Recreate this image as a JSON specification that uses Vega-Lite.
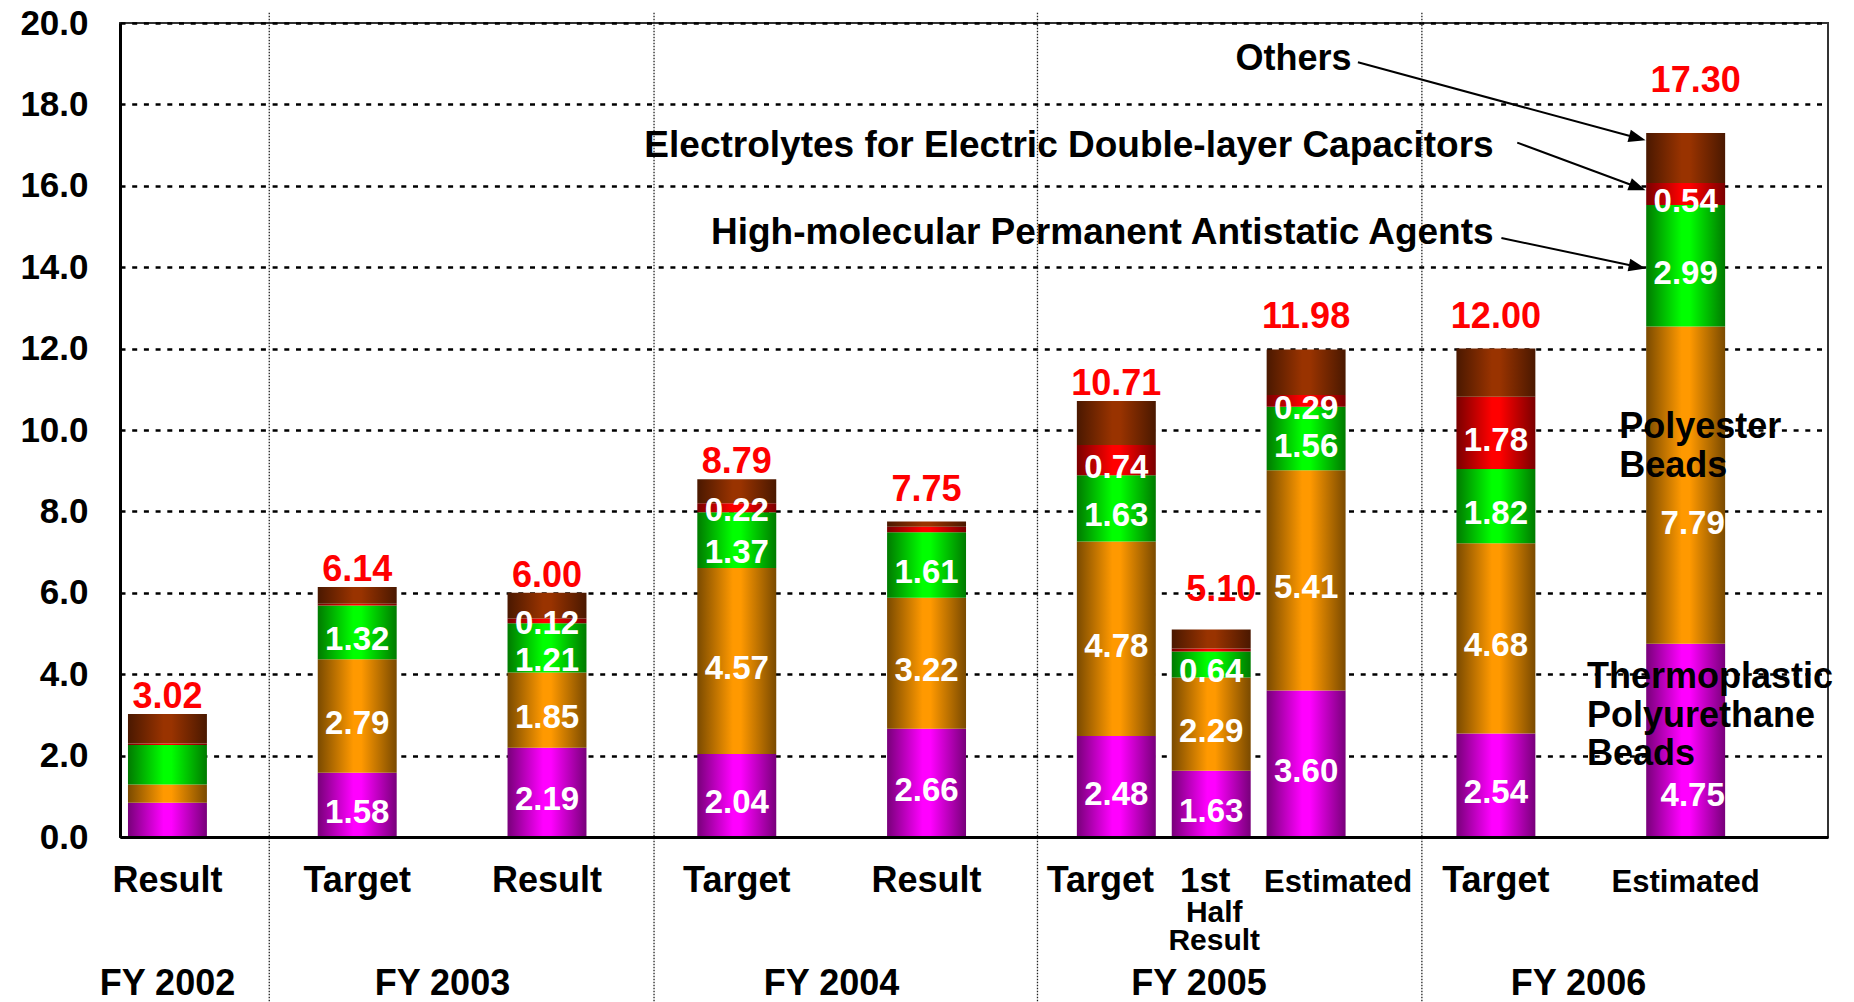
{
  "$schema": "https://vega.github.io/schema/vega-lite/v6.json",
  "width": 1708,
  "height": 814,
  "autosize": {"type": "none"},
  "padding": {"left": 120, "top": 23, "right": 26, "bottom": 165},
  "background": "white",
  "config": {
    "font": "Liberation Sans, Arial, sans-serif",
    "view": {"stroke": "#333333", "strokeWidth": 2},
    "text": {"fontWeight": "bold", "font": "Liberation Sans, Arial, sans-serif"}
  },
  "datasets": {
    "segments": [
      {"cat": "FY2002 Result", "series": "Thermoplastic Polyurethane Beads", "rank": 1, "value": 0.84, "label": ""},
      {"cat": "FY2002 Result", "series": "Polyester Beads", "rank": 2, "value": 0.45, "label": ""},
      {"cat": "FY2002 Result", "series": "High-molecular Permanent Antistatic Agents", "rank": 3, "value": 0.97, "label": ""},
      {"cat": "FY2002 Result", "series": "Electrolytes for Electric Double-layer Capacitors", "rank": 4, "value": 0.04, "label": ""},
      {"cat": "FY2002 Result", "series": "Others", "rank": 5, "value": 0.72, "label": ""},
      {"cat": "FY2003 Target", "series": "Thermoplastic Polyurethane Beads", "rank": 1, "value": 1.58, "label": "1.58"},
      {"cat": "FY2003 Target", "series": "Polyester Beads", "rank": 2, "value": 2.79, "label": "2.79"},
      {"cat": "FY2003 Target", "series": "High-molecular Permanent Antistatic Agents", "rank": 3, "value": 1.32, "label": "1.32"},
      {"cat": "FY2003 Target", "series": "Electrolytes for Electric Double-layer Capacitors", "rank": 4, "value": 0.04, "label": ""},
      {"cat": "FY2003 Target", "series": "Others", "rank": 5, "value": 0.41, "label": ""},
      {"cat": "FY2003 Result", "series": "Thermoplastic Polyurethane Beads", "rank": 1, "value": 2.19, "label": "2.19"},
      {"cat": "FY2003 Result", "series": "Polyester Beads", "rank": 2, "value": 1.85, "label": "1.85"},
      {"cat": "FY2003 Result", "series": "High-molecular Permanent Antistatic Agents", "rank": 3, "value": 1.21, "label": "1.21"},
      {"cat": "FY2003 Result", "series": "Electrolytes for Electric Double-layer Capacitors", "rank": 4, "value": 0.12, "label": "0.12"},
      {"cat": "FY2003 Result", "series": "Others", "rank": 5, "value": 0.63, "label": ""},
      {"cat": "FY2004 Target", "series": "Thermoplastic Polyurethane Beads", "rank": 1, "value": 2.04, "label": "2.04"},
      {"cat": "FY2004 Target", "series": "Polyester Beads", "rank": 2, "value": 4.57, "label": "4.57"},
      {"cat": "FY2004 Target", "series": "High-molecular Permanent Antistatic Agents", "rank": 3, "value": 1.37, "label": "1.37"},
      {"cat": "FY2004 Target", "series": "Electrolytes for Electric Double-layer Capacitors", "rank": 4, "value": 0.22, "label": "0.22"},
      {"cat": "FY2004 Target", "series": "Others", "rank": 5, "value": 0.59, "label": ""},
      {"cat": "FY2004 Result", "series": "Thermoplastic Polyurethane Beads", "rank": 1, "value": 2.66, "label": "2.66"},
      {"cat": "FY2004 Result", "series": "Polyester Beads", "rank": 2, "value": 3.22, "label": "3.22"},
      {"cat": "FY2004 Result", "series": "High-molecular Permanent Antistatic Agents", "rank": 3, "value": 1.61, "label": "1.61"},
      {"cat": "FY2004 Result", "series": "Electrolytes for Electric Double-layer Capacitors", "rank": 4, "value": 0.13, "label": ""},
      {"cat": "FY2004 Result", "series": "Others", "rank": 5, "value": 0.13, "label": ""},
      {"cat": "FY2005 Target", "series": "Thermoplastic Polyurethane Beads", "rank": 1, "value": 2.48, "label": "2.48"},
      {"cat": "FY2005 Target", "series": "Polyester Beads", "rank": 2, "value": 4.78, "label": "4.78"},
      {"cat": "FY2005 Target", "series": "High-molecular Permanent Antistatic Agents", "rank": 3, "value": 1.63, "label": "1.63"},
      {"cat": "FY2005 Target", "series": "Electrolytes for Electric Double-layer Capacitors", "rank": 4, "value": 0.74, "label": "0.74"},
      {"cat": "FY2005 Target", "series": "Others", "rank": 5, "value": 1.08, "label": ""},
      {"cat": "FY2005 1st Half Result", "series": "Thermoplastic Polyurethane Beads", "rank": 1, "value": 1.63, "label": "1.63"},
      {"cat": "FY2005 1st Half Result", "series": "Polyester Beads", "rank": 2, "value": 2.29, "label": "2.29"},
      {"cat": "FY2005 1st Half Result", "series": "High-molecular Permanent Antistatic Agents", "rank": 3, "value": 0.64, "label": "0.64"},
      {"cat": "FY2005 1st Half Result", "series": "Electrolytes for Electric Double-layer Capacitors", "rank": 4, "value": 0.07, "label": ""},
      {"cat": "FY2005 1st Half Result", "series": "Others", "rank": 5, "value": 0.47, "label": ""},
      {"cat": "FY2005 Estimated", "series": "Thermoplastic Polyurethane Beads", "rank": 1, "value": 3.60, "label": "3.60"},
      {"cat": "FY2005 Estimated", "series": "Polyester Beads", "rank": 2, "value": 5.41, "label": "5.41"},
      {"cat": "FY2005 Estimated", "series": "High-molecular Permanent Antistatic Agents", "rank": 3, "value": 1.56, "label": "1.56"},
      {"cat": "FY2005 Estimated", "series": "Electrolytes for Electric Double-layer Capacitors", "rank": 4, "value": 0.29, "label": "0.29"},
      {"cat": "FY2005 Estimated", "series": "Others", "rank": 5, "value": 1.12, "label": ""},
      {"cat": "FY2006 Target", "series": "Thermoplastic Polyurethane Beads", "rank": 1, "value": 2.54, "label": "2.54"},
      {"cat": "FY2006 Target", "series": "Polyester Beads", "rank": 2, "value": 4.68, "label": "4.68"},
      {"cat": "FY2006 Target", "series": "High-molecular Permanent Antistatic Agents", "rank": 3, "value": 1.82, "label": "1.82"},
      {"cat": "FY2006 Target", "series": "Electrolytes for Electric Double-layer Capacitors", "rank": 4, "value": 1.78, "label": "1.78"},
      {"cat": "FY2006 Target", "series": "Others", "rank": 5, "value": 1.18, "label": ""},
      {"cat": "FY2006 Estimated", "series": "Thermoplastic Polyurethane Beads", "rank": 1, "value": 4.75, "label": "4.75"},
      {"cat": "FY2006 Estimated", "series": "Polyester Beads", "rank": 2, "value": 7.79, "label": "7.79"},
      {"cat": "FY2006 Estimated", "series": "High-molecular Permanent Antistatic Agents", "rank": 3, "value": 2.99, "label": "2.99"},
      {"cat": "FY2006 Estimated", "series": "Electrolytes for Electric Double-layer Capacitors", "rank": 4, "value": 0.54, "label": "0.54"},
      {"cat": "FY2006 Estimated", "series": "Others", "rank": 5, "value": 1.23, "label": ""}
    ],
    "bars": [
      {"cat": "FY2002 Result", "label": "Result", "total": 3.02},
      {"cat": "FY2003 Target", "label": "Target", "total": 6.14},
      {"cat": "FY2003 Result", "label": "Result", "total": 6.00},
      {"cat": "FY2004 Target", "label": "Target", "total": 8.79},
      {"cat": "FY2004 Result", "label": "Result", "total": 7.75},
      {"cat": "FY2005 Target", "label": "Target", "total": 10.71},
      {"cat": "FY2005 1st Half Result", "label": "1st", "sublabel": "Half\nResult", "total": 5.10},
      {"cat": "FY2005 Estimated", "label": "Estimated", "total": 11.98},
      {"cat": "FY2006 Target", "label": "Target", "total": 12.00},
      {"cat": "FY2006 Estimated", "label": "Estimated", "total": 17.30}
    ]
  },
  "layer": [
    {
      "layer": [
        {
          "data": {"name": "segments"},
          "mark": {"type": "bar", "strokeWidth": 0},
          "encoding": {
            "x": {
              "field": "cat", "type": "nominal", "title": null,
              "scale": {
                "domain": ["FY2002 Result", "gap1", "FY2003 Target", "gap2", "FY2003 Result", "gap3", "FY2004 Target", "gap4", "FY2004 Result", "gap5", "FY2005 Target", "FY2005 1st Half Result", "FY2005 Estimated", "gap6", "FY2006 Target", "gap7", "FY2006 Estimated", "gap8"],
                "paddingInner": 0.168, "paddingOuter": 0.084
              },
              "axis": {"labels": false, "ticks": false, "domain": true, "domainColor": "black", "domainWidth": 3, "grid": false, "title": null, "zindex": 1}
            },
            "y": {
              "field": "value", "type": "quantitative", "stack": "zero", "title": null,
              "scale": {"domain": [0, 20], "nice": false},
              "axis": {
                "values": [0, 2, 4, 6, 8, 10, 12, 14, 16, 18, 20], "format": ".1f", "title": null,
                "labelFontSize": 35, "labelFontWeight": "bold", "labelColor": "black", "labelPadding": 32,
                "labelFont": "Liberation Sans, Arial, sans-serif",
                "ticks": false, "domain": true, "domainColor": "black", "domainWidth": 3,
                "grid": true, "gridColor": "black", "gridDash": [5, 6.7], "gridWidth": 2.5, "gridOpacity": 1,
                "labelFlush": false, "labelOverlap": false
              }
            },
            "detail": {"field": "series", "type": "nominal"},
            "order": {"field": "rank", "type": "quantitative"},
            "fill": {
              "condition": [
                {"test": "datum.series === 'Thermoplastic Polyurethane Beads'", "value": {"gradient": "linear", "x1": 0, "y1": 0, "x2": 1, "y2": 0, "stops": [{"offset": 0, "color": "#78007a"}, {"offset": 0.45, "color": "#ff00ff"}, {"offset": 0.55, "color": "#ff00ff"}, {"offset": 1, "color": "#78007a"}]}},
                {"test": "datum.series === 'Polyester Beads'", "value": {"gradient": "linear", "x1": 0, "y1": 0, "x2": 1, "y2": 0, "stops": [{"offset": 0, "color": "#7a4a00"}, {"offset": 0.45, "color": "#ff9900"}, {"offset": 0.55, "color": "#ff9900"}, {"offset": 1, "color": "#7a4a00"}]}},
                {"test": "datum.series === 'High-molecular Permanent Antistatic Agents'", "value": {"gradient": "linear", "x1": 0, "y1": 0, "x2": 1, "y2": 0, "stops": [{"offset": 0, "color": "#007a00"}, {"offset": 0.45, "color": "#00ff00"}, {"offset": 0.55, "color": "#00ff00"}, {"offset": 1, "color": "#007a00"}]}},
                {"test": "datum.series === 'Electrolytes for Electric Double-layer Capacitors'", "value": {"gradient": "linear", "x1": 0, "y1": 0, "x2": 1, "y2": 0, "stops": [{"offset": 0, "color": "#7a0000"}, {"offset": 0.45, "color": "#ff0000"}, {"offset": 0.55, "color": "#ff0000"}, {"offset": 1, "color": "#7a0000"}]}}
              ],
              "value": {"gradient": "linear", "x1": 0, "y1": 0, "x2": 1, "y2": 0, "stops": [{"offset": 0, "color": "#4a1800"}, {"offset": 0.45, "color": "#993300"}, {"offset": 0.55, "color": "#993300"}, {"offset": 1, "color": "#4a1800"}]}
            }
          }
        },
        {
          "data": {"name": "segments"},
          "mark": {"type": "text", "color": "white", "fontSize": 33, "fontWeight": "bold", "baseline": "middle", "align": "center", "dy": 8},
          "encoding": {
            "x": {"field": "cat", "type": "nominal", "title": null},
            "y": {"field": "value", "type": "quantitative", "stack": "zero", "bandPosition": 0.5, "title": null},
            "detail": {"field": "series", "type": "nominal"},
            "order": {"field": "rank", "type": "quantitative"},
            "text": {"condition": {"test": "(datum.cat === 'FY2006 Estimated' && datum.rank <= 2) || ((datum.cat === 'FY2003 Result' || datum.cat === 'FY2004 Target') && datum.rank >= 3)", "value": ""}, "field": "label", "type": "nominal"}
          }
        },
        {
          "data": {"name": "segments"},
          "transform": [{"filter": {"field": "cat", "oneOf": ["FY2003 Result", "FY2004 Target"]}}],
          "mark": {"type": "text", "color": "white", "fontSize": 33, "fontWeight": "bold", "baseline": "middle", "align": "center", "dy": 3},
          "encoding": {
            "x": {"field": "cat", "type": "nominal", "title": null},
            "y": {"field": "value", "type": "quantitative", "stack": "zero", "bandPosition": 0.5, "title": null},
            "detail": {"field": "series", "type": "nominal"},
            "order": {"field": "rank", "type": "quantitative"},
            "text": {"condition": {"test": "datum.rank !== 4", "value": ""}, "field": "label", "type": "nominal"}
          }
        },
        {
          "data": {"name": "segments"},
          "transform": [{"filter": {"field": "cat", "oneOf": ["FY2003 Result", "FY2004 Target"]}}],
          "mark": {"type": "text", "color": "white", "fontSize": 33, "fontWeight": "bold", "baseline": "middle", "align": "center", "dy": 13},
          "encoding": {
            "x": {"field": "cat", "type": "nominal", "title": null},
            "y": {"field": "value", "type": "quantitative", "stack": "zero", "bandPosition": 0.5, "title": null},
            "detail": {"field": "series", "type": "nominal"},
            "order": {"field": "rank", "type": "quantitative"},
            "text": {"condition": {"test": "datum.rank !== 3", "value": ""}, "field": "label", "type": "nominal"}
          }
        },
        {
          "data": {"name": "segments"},
          "transform": [{"filter": "datum.cat === 'FY2006 Estimated' && datum.rank === 1"}],
          "mark": {"type": "text", "color": "white", "fontSize": 33, "fontWeight": "bold", "baseline": "middle", "align": "center", "dy": 56, "dx": 7},
          "encoding": {
            "x": {"field": "cat", "type": "nominal", "title": null},
            "y": {"field": "value", "type": "quantitative", "stack": "zero", "bandPosition": 0.5, "title": null},
            "detail": {"field": "series", "type": "nominal"},
            "order": {"field": "rank", "type": "quantitative"},
            "text": {"field": "label", "type": "nominal"}
          }
        },
        {
          "data": {"name": "segments"},
          "transform": [{"filter": "datum.cat === 'FY2006 Estimated' && datum.rank <= 2"}],
          "mark": {"type": "text", "color": "white", "fontSize": 33, "fontWeight": "bold", "baseline": "middle", "align": "center", "dy": 39, "dx": 7},
          "encoding": {
            "x": {"field": "cat", "type": "nominal", "title": null},
            "y": {"field": "value", "type": "quantitative", "stack": "zero", "bandPosition": 0.5, "title": null},
            "detail": {"field": "series", "type": "nominal"},
            "order": {"field": "rank", "type": "quantitative"},
            "text": {"condition": {"test": "datum.rank === 1", "value": ""}, "field": "label", "type": "nominal"}
          }
        },
        {
          "data": {"name": "bars"},
          "transform": [{"filter": {"field": "cat", "oneOf": ["FY2002 Result", "FY2003 Target", "FY2003 Result", "FY2004 Target", "FY2005 Target"]}}],
          "mark": {"type": "text", "color": "#ff0000", "fontSize": 36, "fontWeight": "bold", "baseline": "alphabetic", "align": "center", "dy": -6},
          "encoding": {
            "x": {"field": "cat", "type": "nominal", "title": null},
            "y": {"field": "total", "type": "quantitative", "title": null},
            "text": {"field": "total", "type": "quantitative", "format": ".2f"}
          }
        },
        {
          "data": {"name": "bars"},
          "transform": [{"filter": {"field": "cat", "oneOf": ["FY2004 Result", "FY2005 Estimated", "FY2006 Target"]}}],
          "mark": {"type": "text", "color": "#ff0000", "fontSize": 36, "fontWeight": "bold", "baseline": "alphabetic", "align": "center", "dy": -21},
          "encoding": {
            "x": {"field": "cat", "type": "nominal", "title": null},
            "y": {"field": "total", "type": "quantitative", "title": null},
            "text": {"field": "total", "type": "quantitative", "format": ".2f"}
          }
        },
        {
          "data": {"name": "bars"},
          "transform": [{"filter": {"field": "cat", "equal": "FY2005 1st Half Result"}}],
          "mark": {"type": "text", "color": "#ff0000", "fontSize": 36, "fontWeight": "bold", "baseline": "alphabetic", "align": "center", "dy": -28, "dx": 10},
          "encoding": {
            "x": {"field": "cat", "type": "nominal", "title": null},
            "y": {"field": "total", "type": "quantitative", "title": null},
            "text": {"field": "total", "type": "quantitative", "format": ".2f"}
          }
        },
        {
          "data": {"name": "bars"},
          "transform": [{"filter": {"field": "cat", "equal": "FY2006 Estimated"}}],
          "mark": {"type": "text", "color": "#ff0000", "fontSize": 36, "fontWeight": "bold", "baseline": "alphabetic", "align": "center", "dy": -41, "dx": 10},
          "encoding": {
            "x": {"field": "cat", "type": "nominal", "title": null},
            "y": {"field": "total", "type": "quantitative", "title": null},
            "text": {"field": "total", "type": "quantitative", "format": ".2f"}
          }
        },
        {
          "data": {"name": "bars"},
          "transform": [{"filter": "datum.label === 'Result' || (datum.label === 'Target' && datum.cat !== 'FY2005 Target')"}],
          "mark": {"type": "text", "color": "black", "fontSize": 36, "fontWeight": "bold", "baseline": "alphabetic", "align": "center"},
          "encoding": {
            "x": {"field": "cat", "type": "nominal", "title": null},
            "y": {"datum": -1.343, "type": "quantitative", "title": null},
            "text": {"field": "label", "type": "nominal"}
          }
        },
        {
          "data": {"name": "bars"},
          "transform": [{"filter": {"field": "cat", "equal": "FY2005 Target"}}],
          "mark": {"type": "text", "color": "black", "fontSize": 36, "fontWeight": "bold", "baseline": "alphabetic", "align": "center", "dx": -16},
          "encoding": {
            "x": {"field": "cat", "type": "nominal", "title": null},
            "y": {"datum": -1.343, "type": "quantitative", "title": null},
            "text": {"field": "label", "type": "nominal"}
          }
        },
        {
          "data": {"name": "bars"},
          "transform": [{"filter": {"field": "cat", "equal": "FY2005 1st Half Result"}}],
          "mark": {"type": "text", "color": "black", "fontSize": 35, "fontWeight": "bold", "baseline": "alphabetic", "align": "center", "dx": -6},
          "encoding": {
            "x": {"field": "cat", "type": "nominal", "title": null},
            "y": {"datum": -1.343, "type": "quantitative", "title": null},
            "text": {"field": "label", "type": "nominal"}
          }
        },
        {
          "data": {"name": "bars"},
          "transform": [{"filter": {"field": "cat", "equal": "FY2005 1st Half Result"}}],
          "mark": {"type": "text", "color": "black", "fontSize": 30, "fontWeight": "bold", "baseline": "alphabetic", "align": "center", "dx": 3, "lineBreak": "\n", "lineHeight": 28.5},
          "encoding": {
            "x": {"field": "cat", "type": "nominal", "title": null},
            "y": {"datum": -2.08, "type": "quantitative", "title": null},
            "text": {"field": "sublabel", "type": "nominal"}
          }
        },
        {
          "data": {"name": "bars"},
          "transform": [{"filter": {"field": "cat", "equal": "FY2005 Estimated"}}],
          "mark": {"type": "text", "color": "black", "fontSize": 31, "fontWeight": "bold", "baseline": "alphabetic", "align": "center", "dx": 32},
          "encoding": {
            "x": {"field": "cat", "type": "nominal", "title": null},
            "y": {"datum": -1.343, "type": "quantitative", "title": null},
            "text": {"field": "label", "type": "nominal"}
          }
        },
        {
          "data": {"name": "bars"},
          "transform": [{"filter": {"field": "cat", "equal": "FY2006 Estimated"}}],
          "mark": {"type": "text", "color": "black", "fontSize": 31, "fontWeight": "bold", "baseline": "alphabetic", "align": "center"},
          "encoding": {
            "x": {"field": "cat", "type": "nominal", "title": null},
            "y": {"datum": -1.343, "type": "quantitative", "title": null},
            "text": {"field": "label", "type": "nominal"}
          }
        }
      ]
    },
    {
      "data": {"values": [{}]},
      "layer": [
        {
          "mark": {"type": "rule", "color": "#222222", "strokeWidth": 1.3, "strokeDash": [1.5, 1.5]},
          "encoding": {
            "x": {
              "datum": 1.573, "type": "quantitative", "title": null,
              "scale": {"domain": [0, 18], "nice": false, "zero": false},
              "axis": {
                "orient": "bottom", "values": [0.495, 3.393, 7.493, 11.366, 15.365],
                "labelExpr": "datum.value < 2 ? 'FY 2002' : datum.value < 5 ? 'FY 2003' : datum.value < 9 ? 'FY 2004' : datum.value < 13 ? 'FY 2005' : 'FY 2006'",
                "labelFontSize": 36, "labelFontWeight": "bold", "labelColor": "black", "labelFont": "Liberation Sans, Arial, sans-serif",
                "labelBaseline": "alphabetic", "labelPadding": 157, "labelAlign": "center",
                "ticks": false, "domain": false, "grid": false, "title": null,
                "labelOverlap": false, "labelFlush": false, "labelBound": false
              }
            },
            "y": {"datum": 20.25, "type": "quantitative", "title": null},
            "y2": {"datum": -4.1}
          }
        },
        {
          "mark": {"type": "rule", "color": "#222222", "strokeWidth": 1.3, "strokeDash": [1.5, 1.5]},
          "encoding": {
            "x": {"datum": 5.628, "type": "quantitative", "title": null},
            "y": {"datum": 20.25, "type": "quantitative", "title": null},
            "y2": {"datum": -4.1}
          }
        },
        {
          "mark": {"type": "rule", "color": "#222222", "strokeWidth": 1.3, "strokeDash": [1.5, 1.5]},
          "encoding": {
            "x": {"datum": 9.669, "type": "quantitative", "title": null},
            "y": {"datum": 20.25, "type": "quantitative", "title": null},
            "y2": {"datum": -4.1}
          }
        },
        {
          "mark": {"type": "rule", "color": "#222222", "strokeWidth": 1.3, "strokeDash": [1.5, 1.5]},
          "encoding": {
            "x": {"datum": 13.72, "type": "quantitative", "title": null},
            "y": {"datum": 20.25, "type": "quantitative", "title": null},
            "y2": {"datum": -4.1}
          }
        },
        {
          "mark": {"type": "text", "color": "black", "fontSize": 36, "fontWeight": "bold", "align": "right", "baseline": "alphabetic"},
          "encoding": {
            "x": {"datum": 12.98, "type": "quantitative", "title": null},
            "y": {"datum": 18.84, "type": "quantitative", "title": null},
            "text": {"value": "Others"}
          }
        },
        {
          "mark": {"type": "text", "color": "black", "fontSize": 37, "fontWeight": "bold", "align": "right", "baseline": "alphabetic"},
          "encoding": {
            "x": {"datum": 14.476, "type": "quantitative", "title": null},
            "y": {"datum": 16.705, "type": "quantitative", "title": null},
            "text": {"value": "Electrolytes for Electric Double-layer Capacitors"}
          }
        },
        {
          "mark": {"type": "text", "color": "black", "fontSize": 37, "fontWeight": "bold", "align": "right", "baseline": "alphabetic"},
          "encoding": {
            "x": {"datum": 14.476, "type": "quantitative", "title": null},
            "y": {"datum": 14.58, "type": "quantitative", "title": null},
            "text": {"value": "High-molecular Permanent Antistatic Agents"}
          }
        },
        {
          "mark": {"type": "text", "color": "black", "fontSize": 36, "fontWeight": "bold", "align": "left", "baseline": "alphabetic", "lineBreak": "\n", "lineHeight": 39},
          "encoding": {
            "x": {"datum": 15.8, "type": "quantitative", "title": null},
            "y": {"datum": 9.8, "type": "quantitative", "title": null},
            "text": {"value": "Polyester\nBeads"}
          }
        },
        {
          "mark": {"type": "text", "color": "black", "fontSize": 36, "fontWeight": "bold", "align": "left", "baseline": "alphabetic", "lineBreak": "\n", "lineHeight": 38.5},
          "encoding": {
            "x": {"datum": 15.46, "type": "quantitative", "title": null},
            "y": {"datum": 3.66, "type": "quantitative", "title": null},
            "text": {"value": "Thermoplastic\nPolyurethane\nBeads"}
          }
        },
        {
          "mark": {"type": "rule", "color": "black", "strokeWidth": 2},
          "encoding": {
            "x": {"datum": 13.046, "type": "quantitative", "title": null},
            "x2": {"datum": 15.991},
            "y": {"datum": 19.035, "type": "quantitative", "title": null},
            "y2": {"datum": 17.173}
          }
        },
        {
          "mark": {"type": "point", "shape": "M-1,-0.75L1,0L-1,0.75Z", "filled": true, "fill": "black", "opacity": 1, "size": 289, "angle": 15.2, "strokeWidth": 0},
          "encoding": {
            "x": {"datum": 15.991, "type": "quantitative", "title": null},
            "y": {"datum": 17.173, "type": "quantitative", "title": null}
          }
        },
        {
          "mark": {"type": "rule", "color": "black", "strokeWidth": 2},
          "encoding": {
            "x": {"datum": 14.725, "type": "quantitative", "title": null},
            "x2": {"datum": 15.993},
            "y": {"datum": 17.062, "type": "quantitative", "title": null},
            "y2": {"datum": 15.965}
          }
        },
        {
          "mark": {"type": "point", "shape": "M-1,-0.75L1,0L-1,0.75Z", "filled": true, "fill": "black", "opacity": 1, "size": 289, "angle": 20.4, "strokeWidth": 0},
          "encoding": {
            "x": {"datum": 15.993, "type": "quantitative", "title": null},
            "y": {"datum": 15.965, "type": "quantitative", "title": null}
          }
        },
        {
          "mark": {"type": "rule", "color": "black", "strokeWidth": 2},
          "encoding": {
            "x": {"datum": 14.558, "type": "quantitative", "title": null},
            "x2": {"datum": 15.99},
            "y": {"datum": 14.719, "type": "quantitative", "title": null},
            "y2": {"datum": 14.012}
          }
        },
        {
          "mark": {"type": "point", "shape": "M-1,-0.75L1,0L-1,0.75Z", "filled": true, "fill": "black", "opacity": 1, "size": 289, "angle": 12.0, "strokeWidth": 0},
          "encoding": {
            "x": {"datum": 15.99, "type": "quantitative", "title": null},
            "y": {"datum": 14.012, "type": "quantitative", "title": null}
          }
        }
      ]
    }
  ],
  "resolve": {"scale": {"x": "independent"}, "axis": {"x": "independent"}}
}
